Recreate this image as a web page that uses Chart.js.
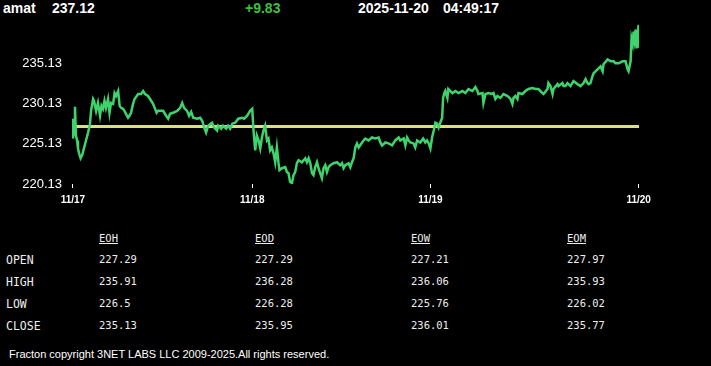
<!DOCTYPE html>
<html>
<head>
<meta charset="utf-8">
<script src="https://cdn.jsdelivr.net/npm/chart.js@4"></script>
<style>
  html, body { margin: 0; padding: 0; background: #000; }
  body { width: 711px; height: 366px; position: relative; overflow: hidden; color: #fff; }
  .hdr { position: absolute; top: 0; font: bold 14px "Liberation Sans", Arial, sans-serif; line-height: 17px; white-space: pre; }
  #wrap { position: absolute; left: 0; top: 0; width: 711px; height: 215px; }
  .cell { position: absolute; font: 10.5px "DejaVu Sans Mono", monospace; line-height: 14px; white-space: pre; color: #eee; }
  .lbl { font-size: 11.5px; }
  .colh { text-decoration: underline; }
  #foot { position: absolute; left: 9px; top: 348px; font: 11px "Liberation Sans", Arial, sans-serif; color: #fff; }
</style>
</head>
<body>
<div class="hdr" style="left:3px">amat</div>
<div class="hdr" style="left:52px">237.12</div>
<div class="hdr" style="left:245px;color:#3cc03c">+9.83</div>
<div class="hdr" style="left:358px">2025-11-20</div>
<div class="hdr" style="left:443px">04:49:17</div>
<div id="wrap"><canvas id="chart" width="711" height="215"></canvas></div>
<div id="table"></div>
<div id="foot">Fracton copyright 3NET LABS LLC 2009-2025.All rights reserved.</div>
<script>
// minutes since the 11/17 session start, and price at that time
const times = [
  0,5,11,16,21,27,32,38,46,54, 64,75,86,96,102,113,118,129,139,150,
  158,166,174,182,193,201,209,220,228,236, 247,255,263,273,281,289,300,308,316,327,
  335,354,370,381,391,407,418,434,445,453, 461,488,504,
  515,525,541,563,579,590,600,616,627,638, 649,670,686,697,708,718,729,750,761,777,
  783,799,809,825,836,847,858,874,890,911, 922,938,954,965,
  972,981,990,999,1008,1017,1025,1034,1044,1052, 1061,1070,1079,1088,1097,1106,1111,1124,1142,1151,
  1159,1168,1178,1186,1195,1204,1213,1231,1249,1258, 1267,1276,1285,1293,1302,1312,1320,1329,1338,1347,
  1356,1365,1374,1383,1401,1419,1436,1446,1454,1463, 1481,1490,1499,1508,1517,1526,1535,1553,1570,1588,
  1606,1624,1642,1651,1660,1678,1695,1714,1731,1749, 1758,1776,1785,1794,1803,1812,1829,1838,1848,1865,
  1880,1892,1901,1910,1919,1928,1937,1946,1955,1963, 1972,1982,1987,1994,
  1999,2010,2015,2037,2053,2069,2090,2106,2123,2144, 2160,2171,2176,2198,2203,2214,2230,2246,2257,2267,
  2278,2294,2310,2332,2348,2358,2364,2374,2385,2391, 2412,2428,2444,2466,2482,2498,2519,2525,2546,2551,
  2562,2573,2578,2600,2605,2626,2632,2642,2653,2669, 2685,2707,2723,2739,2750,2760,2766,2776,2787,2793,
  2814,2830,2841,2846,2868,2884,2900,2910,2927,2948, 2964,2975,2980,2991,2996,3002,3007,3012,3018,3023,
  3028,3034,3036
];
const prices = [
  228.27,225.80,227.03,229.75,226.17,225.56,224.57,223.95,223.34,223.71, 224.57,225.56,226.54,227.53,229.25,230.73,230.49,229.25,230.24,228.64,
  229.87,229.50,230.49,229.62,230.73,229.01,230.24,230.12,231.47,231.10, 231.72,229.87,229.62,229.50,229.25,228.88,228.39,228.64,229.01,230.12,
  230.73,231.35,231.35,231.72,231.35,231.10,230.73,230.12,229.50,229.01, 229.25,229.25,228.64,
  228.27,228.88,229.01,229.25,229.62,230.24,229.62,229.25,228.64,229.13, 228.39,228.27,228.39,228.02,227.16,226.54,227.40,227.77,227.16,226.79,
  227.40,227.03,227.40,227.03,227.40,227.03,227.65,227.77,228.27,228.39, 228.27,228.64,229.25,229.50,
  226.79,224.32,226.17,225.56,224.57,225.93,226.79,227.40,225.56,225.80, 224.32,224.69,223.95,222.84,224.69,222.72,221.86,222.10,222.23,221.61,
  221.49,220.38,220.25,221.24,221.61,222.72,223.09,222.84,223.34,222.84, 223.34,222.72,221.49,221.24,222.23,222.84,222.10,221.49,220.87,222.10,
  222.47,221.61,222.23,222.47,222.72,222.84,222.47,222.72,222.10,222.47, 222.72,222.23,222.84,223.34,224.69,225.19,224.69,225.31,225.80,225.56,
  225.93,225.80,225.93,225.31,224.94,225.31,225.19,224.94,225.56,225.93, 225.56,225.80,224.94,225.93,225.56,225.31,225.19,224.69,225.56,225.31,
  225.80,225.31,225.56,225.19,224.57,225.93,226.79,227.77,227.65,227.16, 227.77,228.39,230.86,231.47,
  231.72,230.86,231.97,231.47,231.72,231.47,231.72,231.47,231.97,231.72, 232.21,231.72,231.35,231.47,230.24,231.35,231.47,231.35,231.47,230.73,
  231.10,230.86,231.35,231.10,230.73,230.12,230.86,231.10,230.73,231.47, 231.35,231.72,231.97,232.09,231.97,231.97,231.47,231.35,231.97,232.71,
  232.34,231.35,231.97,232.58,232.34,232.71,232.34,232.34,232.71,232.34, 232.95,232.58,232.34,232.71,233.20,232.71,232.58,232.71,233.57,233.94,
  234.43,234.80,234.19,235.05,235.67,235.42,235.42,235.17,235.17,235.42, 235.42,234.43,234.19,235.42,238.26,237.64,239.12,238.13,239.37,237.02,
  238.75,239.98,237.12
];

const dayTicks = [5, 965, 1919, 3034];
const dayLabels = ['11/17', '11/18', '11/19', '11/20'];
const yTicks = [220.13, 225.13, 230.13, 235.13];
const openPrice = 227.29;

// summary table
const colNames = ['EOH', 'EOD', 'EOW', 'EOM'];
const rowNames = ['OPEN', 'HIGH', 'LOW', 'CLOSE'];
const openVals = ['227.29', '227.29', '227.21', '227.97'];
const highVals = ['235.91', '236.28', '236.06', '235.93'];
const lowVals = ['226.5', '226.28', '225.76', '226.02'];
const closeVals = ['235.13', '235.95', '236.01', '235.77'];

const table = document.getElementById('table');
const colX = [99, 255, 411, 567];
const rowY = [252, 274, 296, 318];
colNames.forEach((c, i) => {
  const d = document.createElement('div');
  d.className = 'cell colh';
  d.style.left = colX[i] + 'px';
  d.style.top = '231px';
  d.textContent = c;
  table.appendChild(d);
});
[openVals, highVals, lowVals, closeVals].forEach((vals, r) => {
  const l = document.createElement('div');
  l.className = 'cell lbl';
  l.style.left = '6px';
  l.style.top = (rowY[r] + 1) + 'px';
  l.textContent = rowNames[r];
  table.appendChild(l);
  vals.forEach((v, i) => {
    const d = document.createElement('div');
    d.className = 'cell';
    d.style.left = colX[i] + 'px';
    d.style.top = rowY[r] + 'px';
    d.textContent = v;
    table.appendChild(d);
  });
});

const ctx = document.getElementById('chart').getContext('2d');
new Chart(ctx, {
  type: 'line',
  data: {
    datasets: [
      {
        data: times.map((t, i) => ({ x: t, y: prices[i] })),
        borderColor: '#3ed36c',
        borderWidth: 2.5,
        pointRadius: 0,
        tension: 0
      },
      {
        data: [{ x: times[0], y: openPrice }, { x: times[times.length - 1], y: openPrice }],
        borderColor: '#d8e46e',
        borderWidth: 3,
        pointRadius: 0
      }
    ]
  },
  options: {
    responsive: false,
    animation: false,
    layout: { padding: { top: 16, right: 72, left: 0, bottom: 0 } },
    plugins: { legend: { display: false }, tooltip: { enabled: false } },
    scales: {
      x: {
        type: 'linear',
        min: times[0],
        max: times[times.length - 1],
        afterBuildTicks: s => { s.ticks = dayTicks.map(v => ({ value: v })); },
        afterFit: s => { s.height = 31; },
        grid: { drawOnChartArea: false, drawTicks: true, tickLength: 4, color: '#fff' },
        border: { display: false },
        ticks: {
          autoSkip: false,
          maxRotation: 0,
          padding: 6,
          color: '#fff',
          font: { family: 'Liberation Sans', size: 10, weight: 'bold' },
          callback: (v, i) => dayLabels[i]
        }
      },
      y: {
        min: 220.13,
        max: 240.85,
        afterBuildTicks: s => { s.ticks = yTicks.map(v => ({ value: v })); },
        afterFit: s => { s.width = 72; },
        grid: { display: false, drawTicks: false },
        border: { display: false },
        ticks: {
          padding: 10,
          color: '#fff',
          font: { family: 'Liberation Sans', size: 13 },
          callback: v => v.toFixed(2)
        }
      }
    }
  }
});
</script>
</body>
</html>
